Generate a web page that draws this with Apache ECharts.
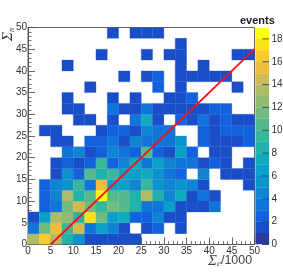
<!DOCTYPE html>
<html><head><meta charset="utf-8">
<style>html,body{margin:0;padding:0;background:#fff}#c{width:283px;height:272px;filter:blur(0.45px)}</style>
<script src="https://cdn.jsdelivr.net/npm/echarts@6/dist/echarts.min.js"></script>
</head><body><div id="c"></div>
<script>
const binWidth = 2.5;
const row0  = [13,16,13,8,5,1,1,1,1,1,0,0,0,0,0,0,0,0,0,0];
const row1  = [3,11,15,9,14,3,6,4,1,0,1,2,0,1,0,0,0,0,0,0];
const row2  = [1,6,13,12,8,17,11,6,7,2,2,4,1,1,0,0,0,0,0,0];
const row3  = [0,2,3,11,14,11,9,11,10,8,3,3,6,1,1,1,3,0,0,0];
const row4  = [0,2,4,13,8,10,18,10,10,8,13,8,4,7,1,3,1,0,0,0];
const row5  = [0,2,4,5,9,3,15,6,6,4,9,5,4,5,4,1,0,0,0,1];
const row6  = [0,0,1,5,2,10,8,9,6,6,7,5,3,2,0,4,0,1,1,1];
const row7  = [0,0,1,2,1,2,9,2,4,7,3,6,4,3,3,1,2,1,0,1];
const row8  = [0,0,0,3,4,1,2,4,3,2,10,2,1,6,2,0,1,1,0,0];
const row9  = [0,0,1,1,0,2,2,3,1,4,3,3,3,5,0,2,1,1,1,2];
const row10 = [0,1,1,0,0,0,1,2,2,1,4,3,3,0,0,2,1,2,2,2];
const row11 = [0,0,0,0,1,1,0,1,0,3,7,1,0,2,1,3,1,2,1,1];
const row12 = [0,0,0,1,1,0,0,3,1,1,3,1,1,1,1,1,2,2,0,0];
const row13 = [0,0,0,1,0,0,0,1,0,1,0,0,1,1,2,0,0,0,0,0];
const row14 = [0,0,0,0,0,1,0,0,0,0,0,2,0,1,0,0,0,0,1,0];
const row15 = [0,0,0,0,0,0,0,0,1,0,1,2,0,1,1,1,1,1,0,0];
const row16 = [0,0,0,1,0,0,0,0,0,0,0,0,0,1,0,1,0,0,0,0];
const row17 = [0,0,0,0,0,0,1,0,0,0,1,0,1,1,0,0,0,0,1,1];
const row18 = [0,0,0,0,0,0,0,0,0,0,0,0,0,1,0,0,0,0,0,0];
const row19 = [0,0,0,0,0,0,0,1,0,1,1,1,0,0,0,0,0,0,0,0];
const rows = [row0,row1,row2,row3,row4,row5,row6,row7,row8,row9,row10,row11,row12,row13,row14,row15,row16,row17,row18,row19];
const lineX = [5,50];
const lineY = [0,45];
const levels = [0,1,2,3,4,5,6,7,8,9,10,11,12,13,14,15,16,17,18];
const colorTicks = [0,2,4,6,8,10,12,14,16,18];
const palette = ['#2b3a9e','#1a4ec8','#1162dc','#1074d8','#0f84d2','#0e92cc','#0ca0c8','#10aabc','#22b2ac','#3ab69c','#54ba8e','#70bc80','#90bd72','#b0bb66','#d0bb52','#eebe3c','#fcca2c','#fde01e','#fefe10'];

const cells=[];
rows.forEach((r,j)=>r.forEach((v,i)=>{ if(v>0) cells.push([i*binWidth,j*binWidth,v]); }));
const barData=levels.map(v=>[0,v,v]);

function renderCell(params,api){
  const x=api.value(0), y=api.value(1), v=api.value(2);
  const p0=api.coord([x,y]), p1=api.coord([x+binWidth,y+binWidth]);
  return {type:'rect',shape:{x:p0[0],y:p1[1],width:p1[0]-p0[0],height:p0[1]-p1[1]},
    style:{fill:palette[v],stroke:palette[v],lineWidth:.3}};
}
function renderBar(params,api){
  const v=api.value(1);
  const p0=api.coord([0,v]), p1=api.coord([1,v+1]);
  return {type:'rect',shape:{x:p0[0],y:p1[1],width:p1[0]-p0[0],height:p0[1]-p1[1]},
    style:{fill:palette[v],stroke:palette[v],lineWidth:.2}};
}
const labelFont={fontFamily:'Liberation Sans',fontSize:10,color:'#333'};
const mainAxis=(extra)=>Object.assign({
  type:'value',min:0,max:50,interval:5,
  axisLine:{show:true,onZero:false,lineStyle:{color:'#555',width:1}},
  axisTick:{show:true,inside:true,length:7,lineStyle:{color:'#444',width:.8}},
  minorTick:{show:true,splitNumber:5,length:3.5,lineStyle:{color:'#555',width:.8}},
  splitLine:{show:false},minorSplitLine:{show:false}
},extra);

const chart=echarts.init(document.getElementById('c'),null,{renderer:'canvas',width:283,height:272});
chart.setOption({
  animation:false,backgroundColor:'#fff',
  title:{text:'events',left:235,top:10.5,textStyle:{fontFamily:'Liberation Sans',fontSize:11,fontWeight:'bold',color:'#222'}},
  graphic:[
    {type:'text',x:208,y:261,silent:true,style:{text:'{s|Σ}{b|e}{r|/1000}',align:'left',verticalAlign:'middle',
      rich:{s:{fontFamily:'Liberation Serif',fontStyle:'italic',fontSize:15,fill:'#444'},
            b:{fontFamily:'Liberation Serif',fontStyle:'italic',fontSize:9,fill:'#444',verticalAlign:'bottom'},
            r:{fontFamily:'Liberation Sans',fontSize:12.5,fill:'#444'}}}},
    {type:'text',x:8.5,y:41,rotation:Math.PI/2,silent:true,style:{text:'{s|Σ}{b|n}',align:'left',verticalAlign:'middle',
      rich:{s:{fontFamily:'Liberation Serif',fontStyle:'italic',fontSize:15,fill:'#333'},
            b:{fontFamily:'Liberation Serif',fontStyle:'italic',fontSize:8,fill:'#333',verticalAlign:'bottom'}}}}
  ],
  grid:[
    {left:28,top:27.5,width:226.5,height:217,show:true,borderColor:'#666',borderWidth:1,backgroundColor:'#fff',containLabel:false,outerBoundsMode:'none'},
    {left:255.5,top:27.5,width:13.5,height:217,show:false,containLabel:false,outerBoundsMode:'none'}
  ],
  xAxis:[
    mainAxis({gridIndex:0,position:'bottom',
      axisLabel:Object.assign({margin:2,showMinLabel:true,showMaxLabel:true,hideOverlap:false},labelFont)}),
    {gridIndex:1,type:'value',min:0,max:1,show:false}
  ],
  yAxis:[
    mainAxis({gridIndex:0,position:'left',
      axisLabel:Object.assign({margin:1,padding:[3,0,0,0],showMinLabel:true,showMaxLabel:true,hideOverlap:false},labelFont)}),
    {gridIndex:1,type:'value',min:0,max:19,interval:1,position:'right',
      axisLine:{show:false},
      axisTick:{show:false},splitLine:{show:false},
      axisLabel:Object.assign({margin:2.5,padding:[2,0,0,0],formatter:v=>colorTicks.includes(v)?String(v):''},labelFont)}
  ],
  series:[
    {type:'custom',coordinateSystem:'cartesian2d',xAxisIndex:0,yAxisIndex:0,z:2,clip:true,renderItem:renderCell,
     encode:{x:0,y:1},data:cells,silent:true},
    {type:'custom',coordinateSystem:'cartesian2d',xAxisIndex:1,yAxisIndex:1,z:2,clip:true,renderItem:renderBar,
     encode:{x:0,y:1},data:barData,silent:true},
    {type:'line',xAxisIndex:1,yAxisIndex:1,z:3,symbol:'none',silent:true,
     data:colorTicks.flatMap(v=>[[0.5,v],[1,v],[null,null]]).slice(0,-1),connectNulls:false,
     lineStyle:{color:'#1a4a6a',width:.9}},
    {type:'line',xAxisIndex:0,yAxisIndex:0,z:4,symbol:'none',silent:true,
     data:lineX.map((x,i)=>[x,lineY[i]]),lineStyle:{color:'#f5101c',width:1.8}}
  ]
});
</script></body></html>
